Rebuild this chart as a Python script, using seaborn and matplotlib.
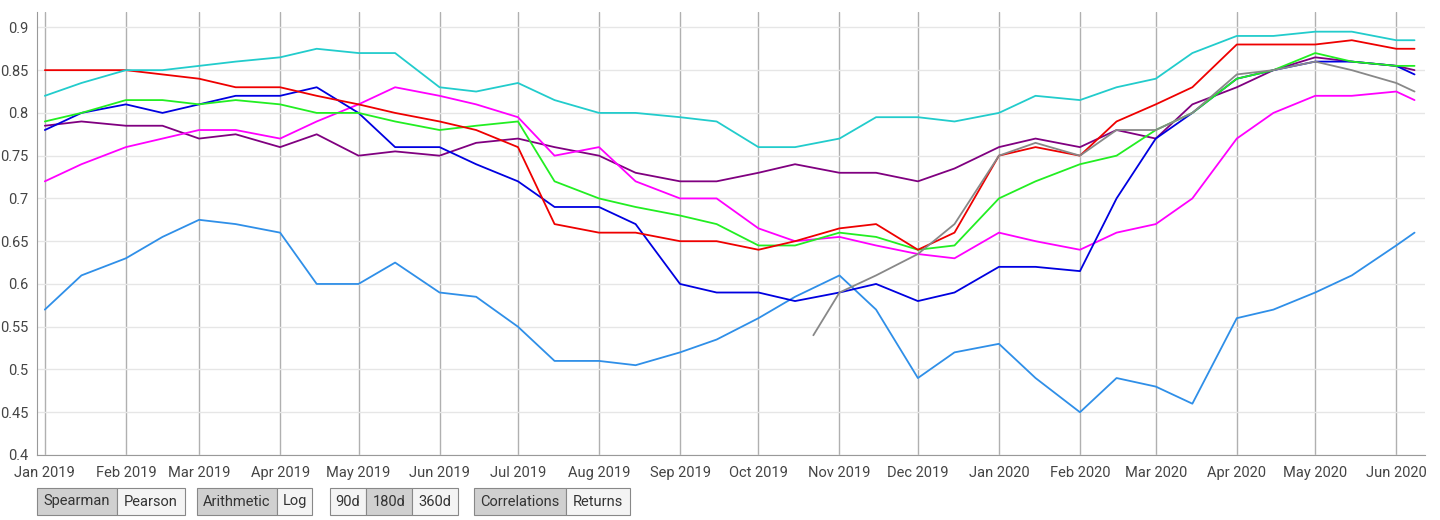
import pandas as pd
import numpy as np
import seaborn as sns
import matplotlib.pyplot as plt
import matplotlib.dates as mdates
from matplotlib.patches import Rectangle

sns.set_style("white")
plt.rcParams['font.family'] = ['Roboto', 'DejaVu Sans']

dates = pd.to_datetime([
    "2019-01-01", "2019-01-15", "2019-02-01", "2019-02-15", "2019-03-01", "2019-03-15",
    "2019-04-01", "2019-04-15", "2019-05-01", "2019-05-15", "2019-06-01", "2019-06-15",
    "2019-07-01", "2019-07-15", "2019-08-01", "2019-08-15", "2019-09-01", "2019-09-15",
    "2019-10-01", "2019-10-15", "2019-11-01", "2019-11-15", "2019-12-01", "2019-12-15",
    "2020-01-01", "2020-01-15", "2020-02-01", "2020-02-15", "2020-03-01", "2020-03-15",
    "2020-04-01", "2020-04-15", "2020-05-01", "2020-05-15", "2020-06-01", "2020-06-08",
])
cyan = [0.82, 0.835, 0.85, 0.85, 0.855, 0.86, 0.865, 0.875, 0.87, 0.87, 0.83, 0.825,
        0.835, 0.815, 0.80, 0.80, 0.795, 0.79, 0.76, 0.76, 0.77, 0.795, 0.795, 0.79,
        0.80, 0.82, 0.815, 0.83, 0.84, 0.87, 0.89, 0.89, 0.895, 0.895, 0.885, 0.885]
red = [0.85, 0.85, 0.85, 0.845, 0.84, 0.83, 0.83, 0.82, 0.81, 0.80, 0.79, 0.78,
       0.76, 0.67, 0.66, 0.66, 0.65, 0.65, 0.64, 0.65, 0.665, 0.67, 0.64, 0.66,
       0.75, 0.76, 0.75, 0.79, 0.81, 0.83, 0.88, 0.88, 0.88, 0.885, 0.875, 0.875]
green = [0.79, 0.80, 0.815, 0.815, 0.81, 0.815, 0.81, 0.80, 0.80, 0.79, 0.78, 0.785,
         0.79, 0.72, 0.70, 0.69, 0.68, 0.67, 0.645, 0.645, 0.66, 0.655, 0.64, 0.645,
         0.70, 0.72, 0.74, 0.75, 0.78, 0.80, 0.84, 0.85, 0.87, 0.86, 0.855, 0.855]
blue = [0.78, 0.80, 0.81, 0.80, 0.81, 0.82, 0.82, 0.83, 0.80, 0.76, 0.76, 0.74,
        0.72, 0.69, 0.69, 0.67, 0.60, 0.59, 0.59, 0.58, 0.59, 0.60, 0.58, 0.59,
        0.62, 0.62, 0.615, 0.70, 0.77, 0.80, 0.84, 0.85, 0.86, 0.86, 0.855, 0.845]
magenta = [0.72, 0.74, 0.76, 0.77, 0.78, 0.78, 0.77, 0.79, 0.81, 0.83, 0.82, 0.81,
           0.795, 0.75, 0.76, 0.72, 0.70, 0.70, 0.665, 0.65, 0.655, 0.645, 0.635, 0.63,
           0.66, 0.65, 0.64, 0.66, 0.67, 0.70, 0.77, 0.80, 0.82, 0.82, 0.825, 0.815]
purple = [0.785, 0.79, 0.785, 0.785, 0.77, 0.775, 0.76, 0.775, 0.75, 0.755, 0.75, 0.765,
          0.77, 0.76, 0.75, 0.73, 0.72, 0.72, 0.73, 0.74, 0.73, 0.73, 0.72, 0.735,
          0.76, 0.77, 0.76, 0.78, 0.77, 0.81, 0.83, 0.85, 0.865, 0.86, 0.855, 0.85]
lightblue = [0.57, 0.61, 0.63, 0.655, 0.675, 0.67, 0.66, 0.60, 0.60, 0.625, 0.59, 0.585,
             0.55, 0.51, 0.51, 0.505, 0.52, 0.535, 0.56, 0.585, 0.61, 0.57, 0.49, 0.52,
             0.53, 0.49, 0.45, 0.49, 0.48, 0.46, 0.56, 0.57, 0.59, 0.61, 0.645, 0.66]
gray_dates = pd.to_datetime([
    "2019-10-22", "2019-11-01", "2019-11-15", "2019-12-01", "2019-12-15", "2020-01-01",
    "2020-01-15", "2020-02-01", "2020-02-15", "2020-03-01", "2020-03-15", "2020-04-01",
    "2020-04-15", "2020-05-01", "2020-05-15", "2020-06-01", "2020-06-08",
])
gray = [0.54, 0.59, 0.61, 0.635, 0.67, 0.75, 0.765, 0.75, 0.78, 0.78, 0.80, 0.845,
        0.85, 0.86, 0.85, 0.835, 0.825]

series = [
    (lightblue, "#2f8fe8"), (purple, "#800080"), (magenta, "#ff00ff"), (blue, "#0000e0"),
    (green, "#22ee22"), (red, "#ee0000"), (cyan, "#22cccc"),
]

fig = plt.figure(figsize=(14.4, 5.2), dpi=100)
ax = fig.add_axes([37 / 1440, 65 / 520, 1388 / 1440, 443 / 520])
for vals, col in series:
    sns.lineplot(x=dates, y=vals, color=col, linewidth=1.3, ax=ax)
sns.lineplot(x=gray_dates, y=gray, color="#888888", linewidth=1.3, ax=ax)

ax.set_xlim(pd.Timestamp("2018-12-29"), pd.Timestamp("2020-06-12"))
ax.set_ylim(0.4, 0.918)
yt = [0.4, 0.45, 0.5, 0.55, 0.6, 0.65, 0.7, 0.75, 0.8, 0.85, 0.9]
ax.set_yticks(yt)
ax.set_yticklabels([f"{v:g}" for v in yt])
ax.xaxis.set_major_locator(mdates.MonthLocator())
ax.xaxis.set_major_formatter(mdates.DateFormatter("%b %Y"))
ax.grid(axis="y", color="#e6e6e6", linewidth=1)
ax.grid(axis="x", color="#b0b0b0", linewidth=1)
ax.tick_params(labelsize=10.5, colors="#444444", length=0)
ax.tick_params(axis="x", pad=8)
ax.tick_params(axis="y", pad=6)
for s in ["top", "right"]:
    ax.spines[s].set_visible(False)
ax.spines["left"].set_color("#999999")
ax.spines["bottom"].set_color("#999999")
ax.set_xlabel("")
ax.set_ylabel("")

# control buttons under the chart (pixel edges)
buttons = [
    ("Spearman", 37, 117, True), ("Pearson", 117, 185, False),
    ("Arithmetic", 197, 277, True), ("Log", 277, 312, False),
    ("90d", 330, 366, False), ("180d", 366, 412, True), ("360d", 412, 458, False),
    ("Correlations", 474, 566, True), ("Returns", 566, 630, False),
]
for label, x0, x1, active in buttons:
    fig.add_artist(Rectangle((x0 / 1440, 5 / 520), (x1 - x0) / 1440, 27 / 520,
                             transform=fig.transFigure,
                             fc="#d0d0d0" if active else "#f4f4f4", ec="#888888", lw=0.8))
    fig.text((x0 + x1) / 2 / 1440, 18.5 / 520, label, fontsize=10.5, color="#333333",
             ha="center", va="center")

fig.savefig("out.png", dpi=100)
